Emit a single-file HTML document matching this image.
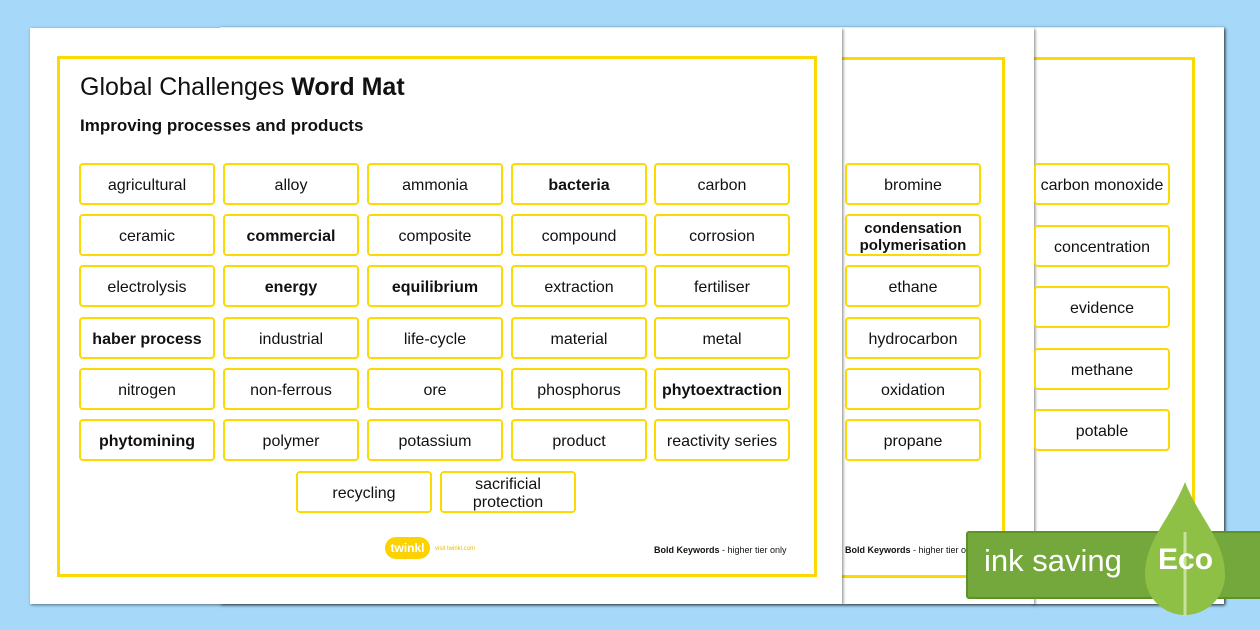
<!DOCTYPE html>
<html><head><style>
body{margin:0;width:1260px;height:630px;background:#a6d9f9;position:relative;overflow:hidden;font-family:"Liberation Sans",sans-serif}
.pg{position:absolute;background:#fff;box-shadow:1px 1px 3px rgba(0,0,0,.5)}
.yb{position:absolute;border:3px solid #fcd900}
.b{position:absolute;width:132px;height:35px;padding-top:3px;border:2px solid #fcd900;border-radius:4px;display:flex;align-items:center;justify-content:center;text-align:center;font-size:16px;color:#111;line-height:18px;background:#fff}
.bo{font-weight:bold}
</style></head><body>
<div class="pg" style="left:220px;top:27px;width:1004px;height:577px"></div>
<div class="pg" style="left:1032px;top:28px;width:192px;height:576px"></div>
<div class="yb" style="left:1030px;top:57px;width:162px;height:515px;border-left:none"></div>
<div class="pg" style="left:842px;top:28px;width:192px;height:576px"></div>
<div class="yb" style="left:840px;top:57px;width:162px;height:515px;border-left:none"></div>
<div class="pg" style="left:30px;top:28px;width:812px;height:576px"></div>
<div class="yb" style="left:57px;top:56px;width:754px;height:515px"></div>
<div style="position:absolute;left:80px;top:73px;font-size:25px;color:#111">Global Challenges <b>Word Mat</b></div>
<div style="position:absolute;left:80px;top:116px;font-size:17px;font-weight:bold;color:#111">Improving processes and products</div>

<div class="b" style="left:79px;top:163px">agricultural</div>
<div class="b" style="left:223px;top:163px">alloy</div>
<div class="b" style="left:367px;top:163px">ammonia</div>
<div class="b bo" style="left:511px;top:163px">bacteria</div>
<div class="b" style="left:654px;top:163px">carbon</div>
<div class="b" style="left:79px;top:214px">ceramic</div>
<div class="b bo" style="left:223px;top:214px">commercial</div>
<div class="b" style="left:367px;top:214px">composite</div>
<div class="b" style="left:511px;top:214px">compound</div>
<div class="b" style="left:654px;top:214px">corrosion</div>
<div class="b" style="left:79px;top:265px">electrolysis</div>
<div class="b bo" style="left:223px;top:265px">energy</div>
<div class="b bo" style="left:367px;top:265px">equilibrium</div>
<div class="b" style="left:511px;top:265px">extraction</div>
<div class="b" style="left:654px;top:265px">fertiliser</div>
<div class="b bo" style="left:79px;top:317px">haber process</div>
<div class="b" style="left:223px;top:317px">industrial</div>
<div class="b" style="left:367px;top:317px">life-cycle</div>
<div class="b" style="left:511px;top:317px">material</div>
<div class="b" style="left:654px;top:317px">metal</div>
<div class="b" style="left:79px;top:368px">nitrogen</div>
<div class="b" style="left:223px;top:368px">non-ferrous</div>
<div class="b" style="left:367px;top:368px">ore</div>
<div class="b" style="left:511px;top:368px">phosphorus</div>
<div class="b bo" style="left:654px;top:368px">phytoextraction</div>
<div class="b bo" style="left:79px;top:419px">phytomining</div>
<div class="b" style="left:223px;top:419px">polymer</div>
<div class="b" style="left:367px;top:419px">potassium</div>
<div class="b" style="left:511px;top:419px">product</div>
<div class="b" style="left:654px;top:419px">reactivity series</div>
<div class="b" style="left:296px;top:471px">recycling</div>
<div class="b" style="left:440px;top:471px">sacrificial<br>protection</div>

<div class="b" style="left:845px;top:163px">bromine</div>
<div class="b bo" style="left:845px;top:214px;font-size:15px;line-height:17px">condensation<br>polymerisation</div>
<div class="b" style="left:845px;top:265px">ethane</div>
<div class="b" style="left:845px;top:317px">hydrocarbon</div>
<div class="b" style="left:845px;top:368px">oxidation</div>
<div class="b" style="left:845px;top:419px">propane</div>

<div class="b" style="left:1034px;top:163px">carbon monoxide</div>
<div class="b" style="left:1034px;top:225px">concentration</div>
<div class="b" style="left:1034px;top:286px">evidence</div>
<div class="b" style="left:1034px;top:348px">methane</div>
<div class="b" style="left:1034px;top:409px">potable</div>

<div style="position:absolute;left:385px;top:537px;width:45px;height:22px;background:#fcd200;border-radius:12px;color:#fff;font-weight:bold;font-size:12px;text-align:center;line-height:22px">twinkl</div>
<div style="position:absolute;left:435px;top:546px;font-size:6px;color:#e8c000">visit twinkl.com</div>
<div style="position:absolute;left:654px;top:545px;font-size:9px;color:#111"><b>Bold Keywords</b> - higher tier only</div>
<div style="position:absolute;left:845px;top:545px;font-size:9px;color:#111"><b>Bold Keywords</b> - higher tier o</div>

<div style="position:absolute;left:966px;top:531px;width:300px;height:64px;background:#75a83c;border:2px solid #5e9228;border-radius:3px"></div>
<svg style="position:absolute;left:1140px;top:480px" width="90" height="140">
<path d="M45 2 C60 40 85 60 85 95 A40 40 0 0 1 5 95 C5 60 30 40 45 2Z" fill="#8dc044"/>
<line x1="45" y1="52" x2="45" y2="136" stroke="#c8e29a" stroke-width="3"/>
</svg>
<div style="position:absolute;left:984px;top:543px;font-size:31px;color:#fff">ink saving</div>
<div style="position:absolute;left:1158px;top:543px;font-size:30px;color:#fff;font-weight:bold">Eco</div>
</body></html>
